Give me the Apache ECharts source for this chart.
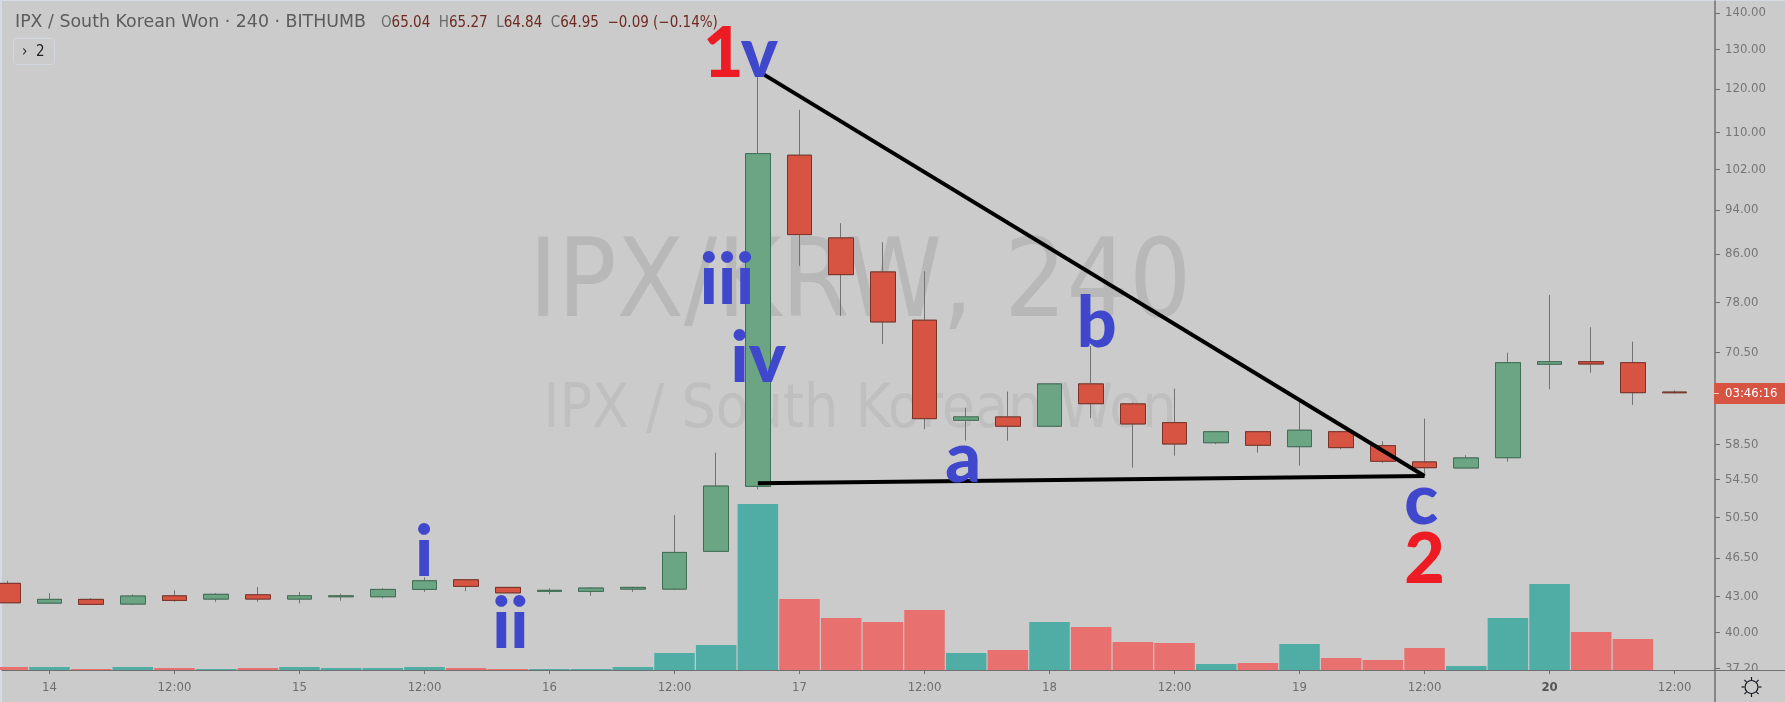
<!DOCTYPE html>
<html><head><meta charset="utf-8">
<script src="https://cdn.jsdelivr.net/npm/echarts@6/dist/echarts.min.js"></script>
<style>html,body{margin:0;padding:0;background:#cbcbcb}#c{width:1785px;height:702px}</style>
</head><body><div id="c"></div>
<script>
const opens=[44.18,42.45,42.77,42.37,43.08,42.80,43.17,42.80,43.00,43.00,43.64,44.50,43.82,43.47,43.47,43.67,43.67,47.13,53.75,104.99,88.82,82.92,75.21,61.44,61.85,60.70,66.12,63.50,61.14,58.71,60.03,58.24,60.03,58.36,56.47,55.79,56.96,68.80,69.16,69.02,65.04];
const closes=[42.48,42.77,42.34,43.06,42.68,43.21,42.80,43.08,43.08,43.64,44.41,43.91,43.34,43.56,43.76,43.82,47.03,53.78,105.33,89.42,82.47,74.95,61.64,61.85,60.70,66.12,63.53,60.98,58.56,60.03,58.41,60.21,58.13,56.55,55.82,56.93,69.02,69.16,68.84,64.96,64.95];
const lows=[42.48,42.39,42.31,42.28,42.56,42.56,42.56,42.43,42.65,42.86,43.43,43.49,43.34,43.21,43.08,43.43,43.58,47.13,53.43,83.94,75.87,71.69,60.33,58.95,58.95,60.70,61.69,55.82,57.19,58.53,57.54,56.05,57.94,56.35,55.19,55.75,56.50,65.41,67.64,63.37,64.84];
const highs=[44.41,43.32,42.88,43.21,43.56,43.32,43.85,43.41,43.26,43.76,44.72,44.56,43.85,43.73,43.85,43.87,50.72,57.53,124.76,115.06,91.51,88.05,83.04,63.02,65.10,66.12,71.39,63.66,65.49,60.03,60.03,63.79,60.12,58.88,61.64,57.24,70.43,79.15,74.15,72.02,65.27];
const volumes=[3,3,1,3,2,1,2,3,2,2,3,2,1,1,1,3,17,25,166,71,52,48,60,17,20,48,43,28,27,6,7,26,12,10,22,4,52,86,38,31];
const volumeUp=[0,1,0,1,0,1,0,1,1,1,1,0,0,1,1,1,1,1,1,0,0,0,0,1,0,1,0,0,0,1,0,1,0,0,0,1,1,1,0,0];
const priceTicks=[140,130,120,110,102,94,86,78,70.5,58.5,54.5,50.5,46.5,43,40,37.2];
const timeTickBars=[1,4,7,10,13,16,19,22,25,28,31,34,37,40];
const timeTickLabels=['14','12:00','15','12:00','16','12:00','17','12:00','18','12:00','19','12:00','20','12:00'];
const upperLine=[[18,124.5],[34,54.89]];
const lowerLine=[[18,54.09],[34,54.89]];
const waveLabels=['1','v','iii','iv','i','ii','a','b','c','2'];
const waveBars=[17.17,18.04,17.26,18.01,9.99,12.06,22.93,26.13,33.92,34.0];
const wavePrices=[128.8,128.8,81.3,69.5,46.9,40.6,56.8,74.5,52.1,46.3];
const waveRed=[1,0,0,0,0,0,0,0,0,1];

const BG='#cbcbcb', CF='"DejaVu Sans Condensed","DejaVu Sans",sans-serif';
const chart=echarts.init(document.getElementById('c'),null,{renderer:'canvas'});
const xMin=-0.139,xMax=40.97;
const idx=opens.map((_,i)=>i);
const wickData=idx.map(i=>[i,opens[i],closes[i],lows[i],highs[i]]);
const bodyData=idx.map(i=>[i,opens[i],closes[i],Math.min(opens[i],closes[i]),Math.max(opens[i],closes[i])]);
const gridBox={left:2,right:70,top:1,bottom:32};
const gearRays=[0,45,90,135,180,225,270,315].map(a=>{
  const r=a*Math.PI/180,cx=1751.5,cy=687;
  return {type:'line',z:9,silent:true,shape:{x1:cx+7*Math.cos(r),y1:cy+7*Math.sin(r),x2:cx+10*Math.cos(r),y2:cy+10*Math.sin(r)},style:{stroke:'#131722',lineWidth:1.2}};
});
chart.setOption({
 animation:false,backgroundColor:BG,
 grid:[Object.assign({},gridBox),Object.assign({},gridBox)],
 xAxis:[
  {type:'value',gridIndex:0,min:xMin,max:xMax,position:'bottom',z:6,splitLine:{show:false},
   axisLine:{show:true,lineStyle:{color:'#6f6f6f',width:1},onZero:false},
   axisTick:{show:true,length:4,lineStyle:{color:'#6f6f6f'},customValues:timeTickBars},
   axisLabel:{customValues:timeTickBars,margin:11,fontFamily:CF,fontSize:13,color:'#6e6e6e',
    formatter:v=>{const s=timeTickLabels[timeTickBars.indexOf(v)];return s==='20'?'{b|20}':s;},
    rich:{b:{fontWeight:'bold',fontFamily:CF,fontSize:13,color:'#555'}}}},
  {type:'value',gridIndex:1,min:xMin,max:xMax,show:false}
 ],
 yAxis:[
  {type:'log',logBase:10,gridIndex:0,position:'right',min:37.08,max:143.4,z:1,splitLine:{show:false},minorTick:{show:false},
   axisLine:{show:true,onZero:false,lineStyle:{color:'#6f6f6f',width:1.5}},
   axisTick:{show:true,length:5,lineStyle:{color:'#6f6f6f'},customValues:priceTicks},
   axisLabel:{customValues:priceTicks,margin:10,fontFamily:CF,fontSize:13,color:'#767676',showMinLabel:true,showMaxLabel:true,
    formatter:v=>Number(v).toFixed(2)}},
  {type:'value',gridIndex:1,min:0,max:669,show:false}
 ],
 series:[
  {type:'bar',name:'Volume',xAxisIndex:1,yAxisIndex:1,barWidth:40.5,z:2,
   data:volumes.map((v,i)=>({value:[i,v],itemStyle:{color:volumeUp[i]?'#4fada6':'#e8706f'}}))},
  {type:'candlestick',name:'wick',xAxisIndex:0,yAxisIndex:0,barWidth:25,z:3,data:wickData,
   itemStyle:{color:'transparent',color0:'transparent',borderColor:'#737375',borderColor0:'#737375',borderWidth:1}},
  {type:'candlestick',name:'body',xAxisIndex:0,yAxisIndex:0,barWidth:25,z:4,data:bodyData,
   itemStyle:{color:'#6ba583',color0:'#d75442',borderColor:'#3f6f55',borderColor0:'#7a3227',borderWidth:1}},
  {type:'line',name:'upper',xAxisIndex:0,yAxisIndex:0,z:5,symbol:'none',data:upperLine,lineStyle:{color:'#000',width:4}},
  {type:'line',name:'lower',xAxisIndex:0,yAxisIndex:0,z:5,symbol:'none',data:lowerLine,lineStyle:{color:'#000',width:4}},
  {type:'scatter',name:'waves',xAxisIndex:0,yAxisIndex:0,z:7,symbolSize:0,clip:false,itemStyle:{opacity:1},
   data:waveLabels.map((t,i)=>({value:[waveBars[i],wavePrices[i]],name:t,
     label:{show:true,position:'inside',formatter:t,fontFamily:'Lato',fontWeight:900,fontSize:70,lineHeight:70,opacity:1,
       color:waveRed[i]?'#ed1c24':'#3f48cc'}}))}
 ],
 graphic:[
  {type:'text',z:0,silent:true,x:860,y:288,style:{text:'IPX/KRW, 240',font:'109px '+CF,fill:'#b8b8b8',textAlign:'center',textVerticalAlign:'middle'}},
  {type:'text',z:0,silent:true,x:860,y:411,style:{text:'IPX / South Korean Won',font:'60px '+CF,fill:'#bfbfbf',textAlign:'center',textVerticalAlign:'middle'}},
  {type:'rect',z:0,silent:true,shape:{x:0,y:0,width:1785,height:1},style:{fill:'#d6dae4'}},
  {type:'rect',z:0,silent:true,shape:{x:0,y:0,width:2,height:702},style:{fill:'#d6dae4'}},
  {type:'rect',z:5,silent:true,shape:{x:2,y:671,width:1783,height:31},style:{fill:BG}},
  {type:'line',z:8,silent:true,shape:{x1:1715,y1:670,x2:1715,y2:702},style:{stroke:'#6f6f6f',lineWidth:1.5}},
  {type:'line',z:8,silent:true,shape:{x1:1715,y1:670.5,x2:1785,y2:670.5},style:{stroke:'#6f6f6f',lineWidth:1}},
  {type:'text',z:9,silent:true,x:15,y:22,style:{text:'IPX / South Korean Won · 240 · BITHUMB',font:'17.4px "DejaVu Sans",sans-serif',fill:'#5c5c5c',textVerticalAlign:'middle'}},
  {type:'text',z:9,silent:true,x:381,y:23,style:{
    text:'{l|O}{v|65.04}  {l|H}{v|65.27}  {l|L}{v|64.84}  {l|C}{v|64.95}  {v|−0.09 (−0.14%)}',
    rich:{l:{font:'15px '+CF,fill:'#6a6a6a'},v:{font:'15px '+CF,fill:'#6d2a20'}},font:'15px '+CF,textVerticalAlign:'middle'}},
  {type:'rect',z:9,silent:true,shape:{x:13.5,y:38.5,width:41,height:26,r:3},style:{fill:'transparent',stroke:'#d3d7e1',lineWidth:1}},
  {type:'text',z:9,silent:true,x:22,y:52,style:{text:'›  2',font:'15px '+CF,fill:'#222',textVerticalAlign:'middle'}},
  {type:'rect',z:9,silent:true,shape:{x:1714,y:383,width:71,height:21},style:{fill:'#d75442'}},
  {type:'line',z:9,silent:true,shape:{x1:1714,y1:393.5,x2:1719,y2:393.5},style:{stroke:'#f0c8c0',lineWidth:1}},
  {type:'text',z:9,silent:true,x:1725,y:393.5,style:{text:'03:46:16',font:'13px '+CF,fill:'#fff',textVerticalAlign:'middle'}},
  {type:'circle',z:9,silent:true,shape:{cx:1751.5,cy:687,r:6.5},style:{fill:'transparent',stroke:'#131722',lineWidth:1.2}}
 ].concat(gearRays)
});
</script></body></html>
